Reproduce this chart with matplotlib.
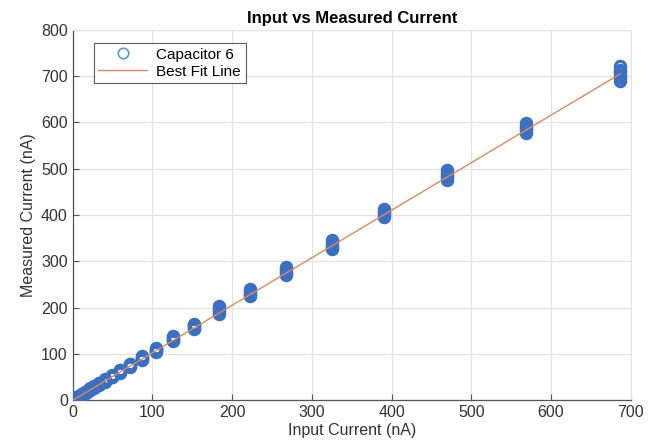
import matplotlib
matplotlib.use("Agg")
import matplotlib.pyplot as plt
import numpy as np

plt.rcParams['font.family'] = ['Liberation Sans', 'DejaVu Sans']

input_levels = [687, 568, 470, 390, 325, 268, 222, 184, 152, 126, 105, 87, 72, 59,
                49, 40, 33, 27, 22, 18, 15, 12, 10, 8, 6.5, 5, 4, 3, 2, 1]
measured_values = [
    [690, 696, 702, 708, 714, 722],
    [578, 583, 588, 593, 598],
    [476, 481, 486, 491, 497],
    [396, 400, 404, 408, 413],
    [327, 331, 335, 340, 345],
    [270, 274, 278, 283, 288],
    [225, 228, 231, 235, 240],
    [186, 190, 194, 198, 203],
    [153, 156, 159, 162, 165],
    [127, 130, 132, 135, 138],
    [104, 106, 108, 111, 113],
    [87, 89, 91, 93, 95],
    [72, 74, 76, 77, 79],
    [59, 61, 62, 64, 66],
    [49, 50, 52, 53, 55],
    [40, 41, 42, 44, 45],
    [33, 34, 35, 36, 37],
    [27, 28, 29, 29.5, 30],
    [22, 22.5, 23, 24, 25],
    [18, 18.5, 19, 19.5, 20],
    [15, 15.3, 15.7, 16, 16.5],
    [12, 12.3, 12.6, 13, 13.4],
    [10, 10.2, 10.5, 10.8, 11],
    [8, 8.2, 8.4, 8.6, 8.8],
    [6.5, 6.7, 6.9, 7, 7.2],
    [5, 5.2, 5.4, 5.5, 5.7],
    [4, 4.1, 4.3, 4.4, 4.6],
    [3, 3.1, 3.2, 3.3, 3.5],
    [2, 2.1, 2.2, 2.3, 2.4],
    [1, 1.05, 1.1, 1.15, 1.2],
]
fit_slope = 1.027
fit_intercept = -0.5
fit_range = [0, 687]
x_ticks = [0, 100, 200, 300, 400, 500, 600, 700]
y_ticks = [0, 100, 200, 300, 400, 500, 600, 700, 800]

xs, ys = [], []
for xv, yl in zip(input_levels, measured_values):
    for yv in yl:
        xs.append(xv)
        ys.append(yv)

fig = plt.figure(figsize=(6.55, 4.46), dpi=100)
ax = fig.add_axes([0.111, 0.103, 0.852, 0.83])

blue = '#3A70C4'
ax.plot(xs, ys, linestyle='none', marker='o', markersize=7.5,
        markerfacecolor='none', markeredgecolor=blue, markeredgewidth=2.2,
        label='Capacitor 6', zorder=3)
fx = np.array(fit_range, dtype=float)
ax.plot(fx, fit_slope * fx + fit_intercept, color='#E0885A', linewidth=1.0,
        label='Best Fit Line', zorder=4)

ax.set_xlim(0, 700)
ax.set_ylim(0, 800)
ax.set_xticks(x_ticks)
ax.set_yticks(y_ticks)
ax.grid(True, color='#E3E3E3', linewidth=0.9)
ax.set_axisbelow(True)
for s in ['top', 'right']:
    ax.spines[s].set_color('#E3E3E3')
for s in ['left', 'bottom']:
    ax.spines[s].set_color('#555555')
    ax.spines[s].set_linewidth(0.9)
ax.tick_params(direction='in', length=4, colors='#555555', labelcolor='#333333',
               labelsize=11.5, top=False, right=False)

ax.set_xlabel('Input Current (nA)', fontsize=11.5, color='#333333', labelpad=2)
ax.set_ylabel('Measured Current (nA)', fontsize=11.5, color='#333333', labelpad=4)
ax.set_title('Input vs Measured Current', fontsize=12, fontweight='bold', pad=5)

leg = ax.legend(loc='upper left', bbox_to_anchor=(0.024, 0.985), fontsize=11,
                frameon=True, fancybox=False, edgecolor='#333333',
                borderpad=0.3, handlelength=3.2, handletextpad=0.6, labelspacing=0.2)
leg.get_frame().set_linewidth(0.8)
h = leg.legend_handles[0]
h.set_markeredgecolor('#4FA0D0')
h.set_markeredgewidth(1.2)

fig.savefig('out.png', dpi=100)
